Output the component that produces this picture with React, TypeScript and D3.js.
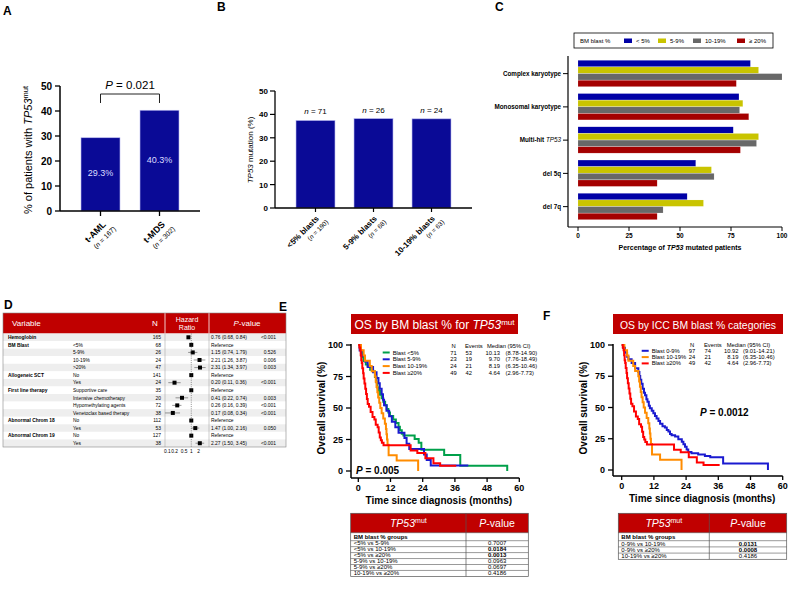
import React from "react";
import * as d3 from "d3";

const FONT = "Arial, 'Liberation Sans', Helvetica, sans-serif";

// ---------- Panel A ----------
const aCategories = ["t-AML", "t-MDS"];
const aSampleSizes = [167, 302];
const aValues = [29.3, 40.3];
const aTicks = [0, 10, 20, 30, 40, 50];
const aPValue = "0.021";

// ---------- Panel B ----------
const bCategories = ["<5% blasts", "5-9% blasts", "10-19% blasts"];
const bSampleSizes = [190, 68, 63];
const bMutated = [71, 26, 24];
const bValues = [37.4, 38.2, 38.1];
const bTicks = [0, 10, 20, 30, 40, 50];

// ---------- Panel C ----------
const cCategories = ["Complex karyotype", "Monosomal karyotype", "Multi-hit TP53", "del 5q", "del 7q"];
const cGroups = ["< 5%", "5-9%", "10-19%", "≥ 20%"];
const cBlastLt5 = [84.5, 78.9, 76.1, 57.7, 53.5];
const cBlast5to9 = [88.5, 80.8, 88.5, 65.4, 61.5];
const cBlast10to19 = [100, 79.2, 87.5, 66.7, 41.7];
const cBlastGe20 = [77.6, 83.7, 79.6, 38.8, 38.8];
const cTicks = [0, 25, 50, 75, 100];
const cColors = ["#0000a6", "#c9c400", "#686868", "#a40000"];

// ---------- Panel D ----------
const dVariables = ["Hemoglobin", "BM Blast", "", "", "", "Allogeneic SCT", "", "First line therapy", "", "", "", "Abnormal Chrom 18", "", "Abnormal Chrom 19", ""];
const dLevels = ["", "<5%", "5-9%", "10-19%", ">20%", "No", "Yes", "Supportive care", "Intensive chemotherapy", "Hypomethylating agents", "Venetoclax based therapy", "No", "Yes", "No", "Yes"];
const dN = [165, 68, 26, 24, 47, 141, 24, 35, 20, 72, 38, 112, 53, 127, 38];
const dHR = [0.76, 1, 1.15, 2.21, 2.31, 1, 0.2, 1, 0.41, 0.26, 0.17, 1, 1.47, 1, 2.27];
const dLower = [0.68, null, 0.74, 1.26, 1.34, null, 0.11, null, 0.22, 0.16, 0.08, null, 1.0, null, 1.5];
const dUpper = [0.84, null, 1.79, 3.87, 3.97, null, 0.36, null, 0.74, 0.39, 0.34, null, 2.16, null, 3.45];
const dP = ["<0.001", "", "0.526", "0.006", "0.003", "", "<0.001", "", "0.003", "<0.001", "<0.001", "", "0.050", "", "<0.001"];
const dTicks = [0.1, 0.2, 0.5, 1, 2];

// ---------- Panel E ----------
const eLabels = ["Blast <5%", "Blast 5-9%", "Blast 10-19%", "Blast ≥20%"];
const eN = [71, 23, 24, 49];
const eEvents = [53, 19, 21, 42];
const eMedian = ["10.13", "9.70", "8.19", "4.64"];
const eCI = ["(8.78-14.90)", "(7.76-18.49)", "(6.35-10.46)", "(2.96-7.73)"];
const kmLt5 = [[0,100],[0.6,97.2],[1.0,94.4],[1.5,90.1],[2.0,87.3],[2.8,84.5],[3.5,83.1],[4.4,80.3],[5.5,78.9],[6.2,74.6],[6.7,70.4],[7.1,66.2],[7.6,63.4],[8.1,60.6],[8.7,57.7],[9.3,54.9],[10.0,52.1],[10.6,49.3],[11.2,46.5],[11.8,43.7],[13.0,40.8],[14.0,38.0],[15.0,35.2],[15.5,32.4],[16.2,29.6],[16.8,28.2],[21.0,25.3],[22.5,22.5],[23.5,16.9],[32.0,12.7],[38.0,4.2],[55.5,0]];
const km5to9 = [[0,100],[0.5,95.7],[1.2,91.3],[2.5,87.0],[3.5,82.6],[5.5,78.3],[6.8,73.9],[7.5,69.6],[8.0,65.2],[8.7,60.9],[9.2,56.5],[9.6,52.2],[10.5,47.8],[11.5,43.5],[12.5,39.1],[13.8,34.8],[15.0,30.4],[17.2,26.1],[18.0,21.7],[19.0,17.4],[24.5,13.0],[25.5,8.7],[27.0,4.3],[41.0,4.3]];
const km10to19 = [[0,100],[1.0,95.8],[2.0,91.7],[2.5,87.5],[4.3,83.3],[5.0,79.2],[6.2,75.0],[6.5,70.8],[6.8,66.7],[7.1,62.5],[7.4,58.3],[7.8,54.2],[8.2,50.0],[8.7,45.8],[9.3,41.7],[9.9,37.5],[10.3,33.3],[10.5,29.2],[10.7,25.0],[10.9,20.8],[11.3,12.5],[14.3,8.3],[22.3,0]];
const kmGe20 = [[0,100],[0.4,98.0],[0.7,95.9],[0.9,91.8],[1.1,87.8],[1.3,85.7],[1.5,81.6],[1.8,77.6],[2.0,73.5],[2.3,69.4],[2.6,65.3],[2.9,61.2],[3.2,57.1],[3.5,53.1],[4.0,51.0],[4.6,46.9],[5.3,42.9],[6.0,40.8],[6.5,36.7],[7.2,34.7],[7.6,30.6],[8.0,26.5],[8.4,24.5],[8.8,22.4],[9.4,20.4],[19.5,16.3],[22.0,14.3],[25.0,10.2],[28.0,6.1],[30.5,4.1],[36.5,4.1]];
const eComparisons = ["<5% vs 5-9%", "<5% vs 10-19%", "<5% vs ≥20%", "5-9% vs 10-19%", "5-9% vs ≥20%", "10-19% vs ≥20%"];
const eCompP = ["0.7007", "0.0184", "0.0013", "0.0963", "0.0697", "0.4186"];
const eCompSig = [false, true, true, false, false, false];

// ---------- Panel F ----------
const fLabels = ["Blast 0-9%", "Blast 10-19%", "Blast ≥20%"];
const fN = [97, 24, 49];
const fEvents = [74, 21, 42];
const fMedian = ["10.92", "8.19", "4.64"];
const fCI = ["(9.01-14.21)", "(6.35-10.46)", "(2.96-7.73)"];
const km0to9 = [[0,100],[0.5,97.9],[1.2,93.8],[2.0,90.7],[2.5,88.7],[3.7,85.6],[5.0,81.4],[6.2,78.4],[6.6,75.3],[6.9,72.2],[7.3,69.1],[7.8,65.0],[8.3,61.9],[8.7,59.8],[9.2,56.7],[9.6,54.6],[10.1,51.5],[10.5,49.5],[11.2,47.4],[11.8,45.4],[12.4,43.3],[13.0,41.2],[13.7,39.2],[14.3,37.1],[15.2,35.1],[16.1,34.0],[16.8,32.0],[17.4,30.9],[18.0,28.9],[18.6,27.8],[19.9,26.8],[21.1,24.7],[22.4,22.7],[23.0,20.6],[23.6,18.6],[24.2,16.5],[24.8,14.4],[26.0,13.4],[28.5,12.4],[31.0,11.3],[33.0,10.3],[37.8,5.2],[54.5,0]];
const fComparisons = ["0-9% vs 10-19%", "0-9% vs ≥20%", "10-19% vs ≥20%"];
const fCompP = ["0.0131", "0.0008", "0.4186"];
const fCompSig = [true, true, false];

const kmTicksX = [0, 12, 24, 36, 48, 60];
const kmTicksY = [0, 25, 50, 75, 100];

const RED = "#c00000";
const BAR_BLUE = "#0a0a96";

function RotLabel({ x, y, main, n, s1, s2, dx2 }: any) {
  return (
    <g transform={`translate(${x},${y}) rotate(-45)`}>
      <text textAnchor="end" fontSize={s1} fontWeight="bold">{main}</text>
      <text x={dx2} y={s1 + 1} textAnchor="end" fontSize={s2}>(<tspan fontStyle="italic">n</tspan> = {n})</text>
    </g>
  );
}

function PanelA() {
  const x = d3.scaleBand().domain(aCategories).range([60, 200]).paddingInner(0.339).paddingOuter(0.356);
  const y = d3.scaleLinear().domain([0, 50]).range([211, 86]);
  const c1 = (x(aCategories[0]) as number) + x.bandwidth() / 2;
  const c2 = (x(aCategories[1]) as number) + x.bandwidth() / 2;
  return (
    <g>
      <text x={3} y={15} fontSize={12} fontWeight="bold">A</text>
      {aCategories.map((c, i) => (
        <g key={c}>
          <rect x={x(c)} y={y(aValues[i])} width={x.bandwidth()} height={y(0) - y(aValues[i])} fill={BAR_BLUE} stroke="#b8b8f0" strokeWidth={0.6} />
          <text x={(x(c) as number) + x.bandwidth() / 2} y={(y(aValues[i]) + y(0)) / 2 + 2} textAnchor="middle" fontSize={9} fill="#dcdcff">{aValues[i]}%</text>
          <line x1={(x(c) as number) + x.bandwidth() / 2} x2={(x(c) as number) + x.bandwidth() / 2} y1={211} y2={216} stroke="#000" strokeWidth={1.3} />
          <RotLabel x={(x(c) as number) + x.bandwidth() / 2 + 6} y={225} main={c} n={aSampleSizes[i]} s1={9} s2={7} dx2={4} />
        </g>
      ))}
      <line x1={60} x2={60} y1={86} y2={211} stroke="#000" strokeWidth={1.5} />
      <line x1={60} x2={200} y1={211} y2={211} stroke="#000" strokeWidth={1.5} />
      {aTicks.map((t) => (
        <g key={t}>
          <line x1={55} x2={60} y1={y(t)} y2={y(t)} stroke="#000" strokeWidth={1.3} />
          <text x={52} y={y(t) + 3.5} textAnchor="end" fontSize={10} fontWeight="bold">{t}</text>
        </g>
      ))}
      <text transform="translate(32,150) rotate(-90)" textAnchor="middle" fontSize={11}>
        % of patients with <tspan fontStyle="italic">TP53</tspan><tspan fontSize={7.5} dy={-4}>mut</tspan>
      </text>
      <path d={`M${c1},103V94H${c2}V103`} fill="none" stroke="#222" strokeWidth={1} />
      <text x={(c1 + c2) / 2} y={89} textAnchor="middle" fontSize={11.5}><tspan fontStyle="italic">P</tspan> = {aPValue}</text>
    </g>
  );
}

function PanelB() {
  const x = d3.scaleBand().domain(bCategories).range([275, 472]).paddingInner(0.328).paddingOuter(0.362);
  const y = d3.scaleLinear().domain([0, 50]).range([208, 91]);
  return (
    <g>
      <text x={217} y={11} fontSize={12} fontWeight="bold">B</text>
      {bCategories.map((c, i) => {
        const cx = (x(c) as number) + x.bandwidth() / 2;
        return (
          <g key={c}>
            <rect x={x(c)} y={y(bValues[i])} width={x.bandwidth()} height={y(0) - y(bValues[i])} fill={BAR_BLUE} stroke="#b8b8f0" strokeWidth={0.6} />
            <text x={cx} y={y(bValues[i]) - 6} textAnchor="middle" fontSize={8}><tspan fontStyle="italic">n</tspan> = {bMutated[i]}</text>
            <line x1={cx} x2={cx} y1={208} y2={212} stroke="#000" strokeWidth={1.2} />
            <RotLabel x={cx + 4} y={219} main={c} n={bSampleSizes[i]} s1={8} s2={6.5} dx2={4} />
          </g>
        );
      })}
      <line x1={275} x2={275} y1={91} y2={208} stroke="#000" strokeWidth={1.3} />
      <line x1={275} x2={472} y1={208} y2={208} stroke="#000" strokeWidth={1.3} />
      {bTicks.map((t) => (
        <g key={t}>
          <line x1={270} x2={275} y1={y(t)} y2={y(t)} stroke="#000" strokeWidth={1.2} />
          <text x={268} y={y(t) + 3} textAnchor="end" fontSize={8} fontWeight="bold">{t}</text>
        </g>
      ))}
      <text transform="translate(253,150) rotate(-90)" textAnchor="middle" fontSize={8}>
        <tspan fontStyle="italic">TP53</tspan> mutation (%)
      </text>
    </g>
  );
}

function PanelC() {
  const y = d3.scaleBand().domain(cCategories).range([57, 223.25]).paddingInner(0.2).paddingOuter(0.1);
  const inner = d3.scaleBand().domain(cGroups).range([0, y.bandwidth()]).padding(0.0);
  const x = d3.scaleLinear().domain([0, 100]).range([578, 782]);
  const series = [cBlastLt5, cBlast5to9, cBlast10to19, cBlastGe20];
  const legendX = [624, 658, 693, 737];
  return (
    <g>
      <text x={495} y={11} fontSize={12} fontWeight="bold">C</text>
      <rect x={574} y={33} width={199} height={15} fill="#fff" stroke="#000" strokeWidth={0.8} />
      <text x={580} y={43} fontSize={6}>BM blast %</text>
      {cGroups.map((g, i) => (
        <g key={g}>
          <rect x={legendX[i]} y={38.5} width={8} height={4.5} fill={cColors[i]} />
          <text x={legendX[i] + 12} y={43} fontSize={6}>{g}</text>
        </g>
      ))}
      {cCategories.map((c, ci) => (
        <g key={c}>
          {cGroups.map((g, gi) => (
            <rect key={g} x={x(0)} y={(y(c) as number) + (inner(g) as number)} width={x(series[gi][ci]) - x(0)} height={inner.bandwidth() - 0.3} fill={cColors[gi]} stroke="#ffffff" strokeOpacity={0.3} strokeWidth={0.4} />
          ))}
          <line x1={563} x2={568} y1={(y(c) as number) + y.bandwidth() / 2} y2={(y(c) as number) + y.bandwidth() / 2} stroke="#000" strokeWidth={1} />
          <text x={561} y={(y(c) as number) + y.bandwidth() / 2 + 2.2} textAnchor="end" fontSize={6.3} fontWeight="bold">
            {c === "Multi-hit TP53" ? (<>Multi-hit <tspan fontStyle="italic" fontWeight="normal">TP53</tspan></>) : c}
          </text>
        </g>
      ))}
      <line x1={568} x2={568} y1={56} y2={227} stroke="#000" strokeWidth={1.2} />
      <line x1={568} x2={782} y1={227} y2={227} stroke="#000" strokeWidth={1.2} />
      {cTicks.map((t) => (
        <g key={t}>
          <line x1={x(t)} x2={x(t)} y1={227} y2={231} stroke="#000" strokeWidth={1} />
          <text x={x(t)} y={237.5} textAnchor="middle" fontSize={6.5} fontWeight="bold">{t}</text>
        </g>
      ))}
      <text x={680} y={250} textAnchor="middle" fontSize={7} fontWeight="bold">
        Percentage of <tspan fontStyle="italic">TP53</tspan> mutated patients
      </text>
    </g>
  );
}

function PanelD() {
  const rows = d3.range(dN.length);
  const ry = d3.scaleBand<number>().domain(rows).range([333.5, 447]);
  const x = d3.scaleLog().domain([0.1, 2]).range([167.3, 198.5]);
  const fmt = d3.format(".2f");
  return (
    <g>
      <text x={4} y={309} fontSize={12} fontWeight="bold">D</text>
      <rect x={3} y={313} width={283} height={20.5} fill={RED} />
      <line x1={165} x2={165} y1={313} y2={333.5} stroke="#fff" strokeWidth={0.8} />
      <line x1={209} x2={209} y1={313} y2={333.5} stroke="#fff" strokeWidth={0.8} />
      <text x={12} y={326} fontSize={8} fill="#fff">Variable</text>
      <text x={155} y={326} fontSize={8} fill="#fff" textAnchor="middle">N</text>
      <text x={187} y={321.5} fontSize={7} fill="#fff" textAnchor="middle">Hazard</text>
      <text x={187} y={330} fontSize={7} fill="#fff" textAnchor="middle">Ratio</text>
      <text x={247} y={326} fontSize={8} fill="#fff" textAnchor="middle"><tspan fontStyle="italic">P</tspan>-value</text>
      {rows.map((i) => {
        const top = ry(i) as number;
        const cy = top + ry.bandwidth() / 2;
        const hr = dHR[i];
        return (
          <g key={i}>
            <rect x={3} y={top} width={283} height={ry.bandwidth()} fill={i % 2 === 0 ? "#eeeeee" : "#ffffff"} />
            <text x={8} y={cy + 1.8} fontSize={4.9} fontWeight="bold">{dVariables[i]}</text>
            <text x={73} y={cy + 1.8} fontSize={4.9}>{dLevels[i]}</text>
            <text x={161} y={cy + 1.8} fontSize={4.9} textAnchor="end">{dN[i]}</text>
            {dLower[i] != null && (
              <line x1={x(dLower[i] as number)} x2={x(dUpper[i] as number)} y1={cy} y2={cy} stroke="#333" strokeWidth={0.5} />
            )}
            <rect x={x(hr) - 2} y={cy - 2} width={4} height={4} fill="#000" />
            <text x={211} y={cy + 1.8} fontSize={4.9}>
              {dLower[i] == null ? "Reference" : `${fmt(hr)} (${fmt(dLower[i] as number)}, ${fmt(dUpper[i] as number)})`}
            </text>
            <text x={276} y={cy + 1.8} fontSize={4.9} textAnchor="end">{dP[i]}</text>
          </g>
        );
      })}
      <line x1={x(1)} x2={x(1)} y1={333.5} y2={447} stroke="#444" strokeWidth={0.6} strokeDasharray="1,1.2" />
      <line x1={165} x2={165} y1={333.5} y2={447} stroke="#999" strokeWidth={0.5} />
      <line x1={209} x2={209} y1={333.5} y2={447} stroke="#999" strokeWidth={0.5} />
      <rect x={3} y={313} width={283} height={134} fill="none" stroke="#888" strokeWidth={0.6} />
      {dTicks.map((t) => (
        <text key={t} x={x(t)} y={452.5} fontSize={4.8} textAnchor="middle">{t}</text>
      ))}
    </g>
  );
}

function KMPanel({ letter, lx, ly, title, x0, yAxisX, axisY, zeroY, curves, colors, labels, ns, events, medians, cis, legend, pText, pPos, comps, compP, compSig, table }: any) {
  const x = d3.scaleLinear().domain([0, 60]).range([x0, x0 + 161]);
  const y = d3.scaleLinear().domain([0, 100]).range([zeroY, 345]);
  const line = d3.line<number[]>().x((d) => x(d[0])).y((d) => y(d[1])).curve(d3.curveStepAfter);
  const rowTops = [table.top, table.top + 8];
  for (let i = 1; i < comps.length; i++) rowTops.push(table.top + 8 + i * table.rowH);
  const bottom = table.top + 8 + comps.length * table.rowH;
  return (
    <g>
      <text x={lx} y={ly} fontSize={12} fontWeight="bold">{letter}</text>
      <rect x={title.x} y={314} width={title.w} height={20} fill={RED} />
      <text x={title.x + title.w / 2} y={328.5} fontSize={title.size} fill="#fff" textAnchor="middle">{title.content}</text>
      {curves.map((c: number[][], i: number) => (
        <path key={i} d={line(c) as string} fill="none" stroke={colors[i]} strokeWidth={2} />
      ))}
      <line x1={yAxisX} x2={yAxisX} y1={344} y2={axisY} stroke="#000" strokeWidth={1.5} />
      <line x1={yAxisX} x2={x(60)} y1={axisY} y2={axisY} stroke="#000" strokeWidth={1.5} />
      {kmTicksY.map((t) => (
        <g key={t}>
          <line x1={yAxisX - 5} x2={yAxisX} y1={y(t)} y2={y(t)} stroke="#000" strokeWidth={1.3} />
          <text x={yAxisX - 8} y={y(t) + 3.2} fontSize={9} fontWeight="bold" textAnchor="end">{t}</text>
        </g>
      ))}
      {kmTicksX.map((t) => (
        <g key={t}>
          <line x1={x(t)} x2={x(t)} y1={axisY} y2={axisY + 4} stroke="#000" strokeWidth={1.3} />
          <text x={x(t)} y={axisY + 13} fontSize={9} fontWeight="bold" textAnchor="middle">{t}</text>
        </g>
      ))}
      <text x={x(30)} y={axisY + 26} fontSize={10} fontWeight="bold" textAnchor="middle">Time since diagnosis (months)</text>
      <text transform={`translate(${yAxisX - 26},${408}) rotate(-90)`} fontSize={10} fontWeight="bold" textAnchor="middle">Overall survival (%)</text>
      <g fontSize={5.8}>
        <text x={legend.nX} y={legend.y0 - legend.dy} textAnchor="middle">N</text>
        <text x={legend.evX} y={legend.y0 - legend.dy}>Events</text>
        <text x={legend.medHX} y={legend.y0 - legend.dy}>Median (95% CI)</text>
        {labels.map((lab: string, i: number) => {
          const yy = legend.y0 + i * legend.dy;
          return (
            <g key={lab}>
              <line x1={legend.swX} x2={legend.swX + 7} y1={yy - 2} y2={yy - 2} stroke={colors[i]} strokeWidth={2} />
              <text x={legend.swX + 10} y={yy}>{lab}</text>
              <text x={legend.nX} y={yy} textAnchor="middle">{ns[i]}</text>
              <text x={legend.evX + 0.5} y={yy}>{events[i]}</text>
              <text x={legend.medX} y={yy} textAnchor="end">{medians[i]}</text>
              <text x={legend.ciX} y={yy}>{cis[i]}</text>
            </g>
          );
        })}
      </g>
      <text x={pPos[0]} y={pPos[1]} fontSize={10} fontWeight="bold"><tspan fontStyle="italic">P</tspan> = {pText}</text>
      <rect x={table.x} y={513.3} width={table.w} height={table.top - 513.3} fill={RED} />
      <text x={(table.x + table.sep) / 2} y={527} fontSize={10.5} fill="#fff" textAnchor="middle" fontStyle="italic">TP53<tspan fontSize={7} dy={-4} fontStyle="normal">mut</tspan></text>
      <text x={(table.sep + table.x + table.w) / 2} y={527} fontSize={10.5} fill="#fff" textAnchor="middle"><tspan fontStyle="italic">P</tspan>-value</text>
      {rowTops.map((t, i) => (
        <line key={i} x1={table.x} x2={table.x + table.w} y1={t} y2={t} stroke="#555" strokeWidth={0.6} />
      ))}
      <rect x={table.x} y={513.3} width={table.w} height={bottom - 513.3} fill="none" stroke="#555" strokeWidth={0.7} />
      <line x1={table.sep} x2={table.sep} y1={513.3} y2={bottom} stroke="#555" strokeWidth={0.7} />
      <text x={table.x + 3} y={table.top + 6} fontSize={6} fontWeight="bold">BM blast % groups</text>
      {comps.map((c: string, i: number) => {
        const t = table.top + 8 + i * table.rowH;
        return (
          <g key={c}>
            <text x={table.x + 3} y={t + table.rowH - 1.2} fontSize={6}>{c}</text>
            <text x={(table.sep + table.x + table.w) / 2} y={t + table.rowH - 1.2} fontSize={6} textAnchor="middle" fontWeight={compSig[i] ? "bold" : "normal"}>{compP[i]}</text>
          </g>
        );
      })}
    </g>
  );
}

export default function App() {
  return (
    <svg width={788} height={589} style={{ position: "absolute", left: 0, top: 0, background: "#fff" }} fontFamily={FONT}>
      <rect width={788} height={589} fill="#fff" />
      <PanelA />
      <PanelB />
      <PanelC />
      <PanelD />
      <KMPanel
        letter="E" lx={279} ly={311}
        title={{ x: 351, w: 167, size: 12, content: (<>OS by BM blast % for <tspan fontStyle="italic">TP53</tspan><tspan fontSize={8} dy={-4}>mut</tspan></>) }}
        x0={358.3} yAxisX={351} axisY={478} zeroY={471}
        curves={[kmLt5, km5to9, km10to19, kmGe20]}
        colors={["#00a04a", "#1a1ad0", "#ff8c00", "#ff0000"]}
        labels={eLabels} ns={eN} events={eEvents} medians={eMedian} cis={eCI}
        legend={{ swX: 382.7, y0: 354.5, dy: 6.8, nX: 453.5, evX: 465, medHX: 487, medX: 500, ciX: 505.5 }}
        pText="0.005" pPos={[356, 474]}
        comps={eComparisons} compP={eCompP} compSig={eCompSig}
        table={{ x: 350.7, w: 177.6, sep: 466, top: 532.7, rowH: 5.95 }}
      />
      <KMPanel
        letter="F" lx={543} ly={320}
        title={{ x: 613, w: 170, size: 10.4, content: "OS by ICC BM blast % categories" }}
        x0={621.7} yAxisX={613} axisY={476} zeroY={470}
        curves={[km0to9, km10to19, kmGe20]}
        colors={["#1a1ad0", "#ff8c00", "#ff0000"]}
        labels={fLabels} ns={fN} events={fEvents} medians={fMedian} cis={fCI}
        legend={{ swX: 641.7, y0: 352.8, dy: 6.3, nX: 692, evX: 704, medHX: 726.7, medX: 738.5, ciX: 743 }}
        pText="0.0012" pPos={[700, 416]}
        comps={fComparisons} compP={fCompP} compSig={fCompSig}
        table={{ x: 618.3, w: 168.4, sep: 709.3, top: 532.7, rowH: 6.2 }}
      />
    </svg>
  );
}
